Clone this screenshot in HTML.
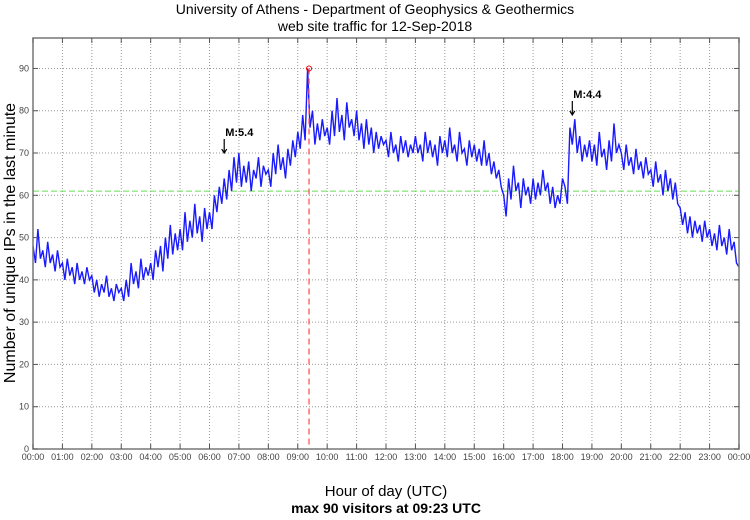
<!DOCTYPE html>
<html><head><meta charset="utf-8"><style>
body{margin:0;background:#fff;}
svg text{font-family:"Liberation Sans",sans-serif;}
</style></head><body>
<svg width="750" height="515" viewBox="0 0 750 515" xmlns="http://www.w3.org/2000/svg">
<text x="375" y="14" text-anchor="middle" font-size="14">University of Athens - Department of Geophysics &amp; Geothermics</text>
<text x="375" y="31" text-anchor="middle" font-size="14">web site traffic for 12-Sep-2018</text>
<g id="grid"></g>
<g id="plot"></g>
<rect x="33" y="38" width="706" height="411" fill="none" stroke="#777" stroke-width="1.5"/>
<g id="axes"></g>
<text transform="translate(15,243) rotate(-90)" text-anchor="middle" font-size="16">Number of unique IPs in the last minute</text>
<text x="386" y="496" text-anchor="middle" font-size="15">Hour of day (UTC)</text>
<text x="386" y="513" text-anchor="middle" font-size="14" font-weight="bold">max 90 visitors at 09:23 UTC</text>
</svg>
<script>
const values = [
48,44,52,45,47,43,49,44,46,42,47,43,
44,40,45,41,43,39,44,40,42,39,43,40,
41,37,40,36,39,37,41,36,38,35,39,37,
38,35,40,36,44,39,42,38,45,40,43,41,
44,40,47,43,48,42,50,45,53,46,51,47,
52,47,56,49,54,50,58,51,55,49,57,52,
56,52,60,56,62,58,64,59,66,61,69,63,
70,62,67,63,68,61,66,64,69,62,67,65,
66,62,70,65,72,66,69,64,71,67,73,69,
75,71,79,73,90,76,80,72,77,73,78,74,
76,72,80,74,83,75,79,73,82,76,78,74,
80,73,77,71,78,72,76,70,75,71,74,72,
73,69,75,70,72,68,74,70,73,69,72,70,
74,70,72,68,75,70,73,69,72,67,74,70,
73,69,76,70,72,68,75,70,71,67,73,69,
72,68,71,67,73,67,70,65,68,64,66,62,
60,55,64,59,67,61,63,57,64,60,62,58,
64,59,63,60,66,61,63,58,62,57,60,58,
64,62,58,76,72,78,70,74,68,72,69,73,
68,72,67,75,69,71,66,73,68,77,70,72,
70,66,72,67,69,65,71,66,68,64,69,65,
66,62,68,63,65,60,66,61,64,59,63,58,
57,53,56,51,55,50,54,51,53,49,54,50,
52,48,51,47,53,48,50,46,52,47,49,44,
43];
const stepMinutes = 5;
const yTicks = [0,10,20,30,40,50,60,70,80,90];
const xTickLabels = ["00:00","01:00","02:00","03:00","04:00","05:00","06:00","07:00","08:00","09:00","10:00","11:00","12:00","13:00","14:00","15:00","16:00","17:00","18:00","19:00","20:00","21:00","22:00","23:00","00:00"];
const meanValue = 61;
const peakMinute = 563, peakValue = 90;
const quakes = [{minute:390,label:"M:5.4",value:70},{minute:1100,label:"M:4.4",value:79}];

const NS="http://www.w3.org/2000/svg";
const L=33,R=739,T=38,B=449,YMAX=97.2;
const xs=m=>L+(R-L)*m/1440;
const ys=v=>B-(B-T)*v/YMAX;
function mk(tag,parent,attrs){const e=document.createElementNS(NS,tag);for(const k in attrs)e.setAttribute(k,attrs[k]);parent.appendChild(e);return e;}
const grid=document.getElementById('grid'),plot=document.getElementById('plot'),axes=document.getElementById('axes');
yTicks.forEach(v=>{
  if(v>0){const g=mk('line',grid,{x1:L,x2:R,y1:ys(v),y2:ys(v),stroke:'#999','stroke-dasharray':'1,2','stroke-width':1});
  
  }
  const t1=mk('line',axes,{x1:L,x2:L+5,y1:ys(v),y2:ys(v),stroke:'#555'});
  
  
  const t2=mk('line',axes,{x1:R-5,x2:R,y1:ys(v),y2:ys(v),stroke:'#555'});
  
  
  const tx=mk('text',axes,{x:L-4,y:ys(v)+3,'text-anchor':'end','font-size':9,fill:'#444'});
  tx.textContent=v;
  
  
});
xTickLabels.forEach((lab,i)=>{
  const x=xs(i*60);
  if(i>0&&i<24){const g=mk('line',grid,{x1:x,x2:x,y1:T,y2:B,stroke:'#999','stroke-dasharray':'1,2','stroke-width':1});
  
  }
  const t1=mk('line',axes,{x1:x,x2:x,y1:B-5,y2:B,stroke:'#555'});
  
  
  const t2=mk('line',axes,{x1:x,x2:x,y1:T,y2:T+5,stroke:'#555'});
  
  
  const tx=mk('text',axes,{x:x,y:B+11,'text-anchor':'middle','font-size':9,fill:'#444'});
  tx.textContent=lab;
  
  
});
const ml=mk('line',plot,{x1:L,x2:R,y1:ys(meanValue),y2:ys(meanValue),stroke:'#66dd55','stroke-dasharray':'6,3','stroke-width':1});


const pts=values.map((v,i)=>xs(i*stepMinutes).toFixed(1)+','+ys(v).toFixed(1)).join(' ');
const pl=mk('polyline',plot,{points:pts,fill:'none',stroke:'#1a1aff','stroke-width':1.4});


const pv=mk('line',plot,{x1:xs(peakMinute),x2:xs(peakMinute),y1:ys(peakValue),y2:B,stroke:'#ff5555','stroke-dasharray':'6,4','stroke-width':1.3});


const pc=mk('circle',plot,{cx:xs(peakMinute),cy:ys(peakValue),r:2.5,fill:'none',stroke:'#ee0000','stroke-width':1});


quakes.forEach(q=>{
  const x=xs(q.minute),y=ys(q.value);
  const a=mk('path',plot,{d:`M${x},${y-14}V${y}M${x-2.5},${y-4}L${x},${y}L${x+2.5},${y-4}`,stroke:'#000',fill:'none','stroke-width':1.2});
  
  
  const t=mk('text',plot,{x:x+1,y:y-17,'font-size':11,'font-weight':'bold'});
  t.textContent=q.label;
  
  
});
</script>
</body></html>
